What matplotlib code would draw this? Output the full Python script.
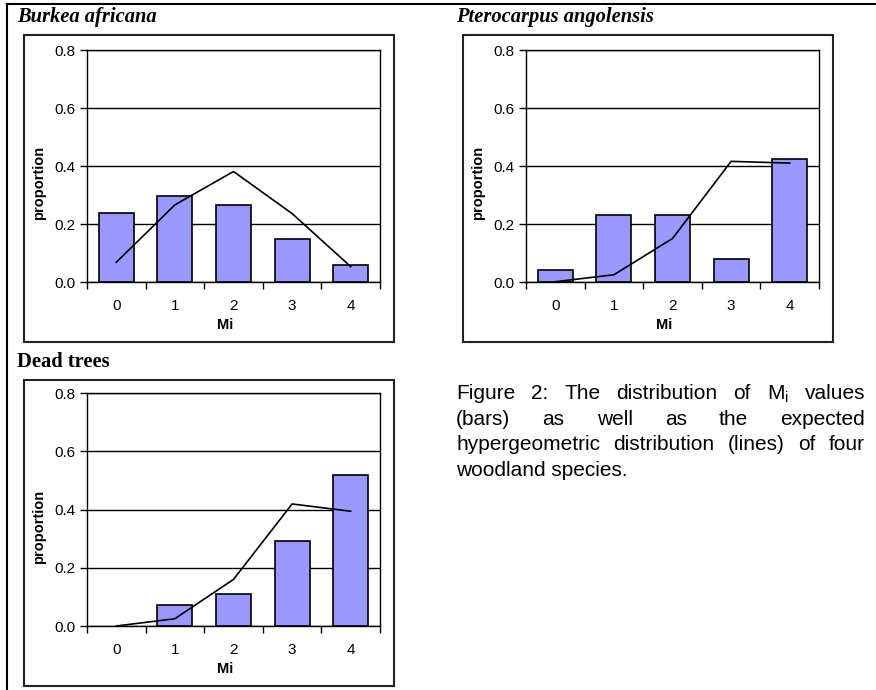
import matplotlib
matplotlib.use("Agg")
import matplotlib.pyplot as plt
from matplotlib.patches import Rectangle
from matplotlib.lines import Line2D

# Mi categories shared by all three panels
categories = [0, 1, 2, 3, 4]

# observed proportions (bars) and expected hypergeometric values (lines)
burkea_obs = [0.239, 0.295, 0.266, 0.150, 0.059]
burkea_exp = [0.068, 0.266, 0.381, 0.236, 0.053]

ptero_obs = [0.040, 0.232, 0.232, 0.078, 0.425]
ptero_exp = [0.001, 0.025, 0.150, 0.416, 0.410]

dead_obs = [0.0, 0.071, 0.110, 0.293, 0.520]
dead_exp = [0.0, 0.025, 0.160, 0.419, 0.394]

titles = ["Burkea africana", "Pterocarpus angolensis", "Dead trees"]

caption_lines = [
    r"Figure 2: The distribution of M$_\mathregular{i}$ values",
    "(bars) as well as the expected",
    "hypergeometric distribution (lines) of four",
    "woodland species.",
]

W, H = 876, 690
plt.rcParams["font.family"] = ["Liberation Sans", "DejaVu Sans"]

fig = plt.figure(figsize=(W / 100, H / 100), dpi=100)


def fbox(x0, y0, x1, y1):
    # pixel box (top-left origin) -> figure fraction [l, b, w, h]
    return [x0 / W, 1 - y1 / H, (x1 - x0) / W, (y1 - y0) / H]


def px(x, y):
    return x / W, 1 - y / H


def draw_panel(plot_box, frame_box, title, title_xy, italic, obs, exp):
    # chart frame
    fx0, fy0, fx1, fy1 = frame_box
    l, b, w, h = fbox(fx0, fy0, fx1, fy1)
    fig.patches.append(Rectangle((l, b), w, h, transform=fig.transFigure,
                                 fill=False, edgecolor="#222222", lw=1.5))
    tx, ty = px(*title_xy)
    fig.text(tx, ty, title, family="Liberation Serif", weight="bold",
             style="italic" if italic else "normal", fontsize=14.8,
             ha="left", va="center")

    ax = fig.add_axes(fbox(*plot_box))
    # empty categories get no outline
    edge_w = [0 if v == 0 else 1.2 for v in obs]
    ax.bar(categories, obs, width=0.6, color="#9999FF",
           edgecolor="black", lw=edge_w, zorder=2)
    ax.plot(categories, exp, color="black", lw=1.2, zorder=3)

    ax.set_xlim(-0.5, 4.5)
    ax.set_ylim(0, 0.8)
    ax.set_yticks([0.0, 0.2, 0.4, 0.6, 0.8])
    ax.set_yticklabels(["0.0", "0.2", "0.4", "0.6", "0.8"])
    ax.set_xticks(categories)
    ax.set_xticks([-0.5, 0.5, 1.5, 2.5, 3.5, 4.5], minor=True)
    ax.tick_params(axis="x", which="major", length=0, labelsize=11, pad=12)
    ax.tick_params(axis="x", which="minor", length=5, direction="out", width=1)
    ax.tick_params(axis="y", length=5, direction="out", width=1,
                   labelsize=11, pad=3)
    ax.yaxis.grid(True, color="black", lw=1)
    ax.set_axisbelow(True)
    for s in ax.spines.values():
        s.set_color("black")
        s.set_linewidth(1)
    ax.set_xlabel("Mi", fontsize=10.5, weight="bold")
    ax.xaxis.set_label_coords(0.471, -0.155)
    ax.set_ylabel("proportion", fontsize=10.5, weight="bold", labelpad=6)
    ax.yaxis.label.set_y(0.427)
    return ax


draw_panel((87, 50, 380, 282), (24, 35, 394, 342), titles[0], (17, 17),
           True, burkea_obs, burkea_exp)
draw_panel((526, 50, 819, 282), (463, 35, 833, 342), titles[1], (456, 17),
           True, ptero_obs, ptero_exp)
draw_panel((87, 393, 380, 626), (24, 380, 394, 686), titles[2], (17, 362),
           False, dead_obs, dead_exp)

# page frame lines
fig.lines.append(Line2D([7 / W, 1], [1 - 4 / H, 1 - 4 / H],
                        transform=fig.transFigure, color="black", lw=1.5))
fig.lines.append(Line2D([7 / W, 7 / W], [1 - 4 / H, 0],
                        transform=fig.transFigure, color="black", lw=1.5))

# justified caption
renderer = fig.canvas.get_renderer()
cap_x0, cap_x1 = 456, 865
baselines = [399, 425, 450, 476]
cap_size = 15
for i, line in enumerate(caption_lines):
    bx, by = px(cap_x0, baselines[i])
    if i == len(caption_lines) - 1:
        fig.text(bx, by, line, fontsize=cap_size, ha="left", va="baseline")
        continue
    words = line.split(" ")
    widths = []
    for wd in words:
        t = fig.text(0, 0, wd, fontsize=cap_size)
        widths.append(t.get_window_extent(renderer).width)
        t.remove()
    gap = max((cap_x1 - cap_x0 - sum(widths)) / (len(words) - 1), 3)
    x = cap_x0
    for wd, wdt in zip(words, widths):
        fig.text(x / W, by, wd, fontsize=cap_size, ha="left", va="baseline")
        x += wdt + gap

fig.savefig("out.png", dpi=100)
